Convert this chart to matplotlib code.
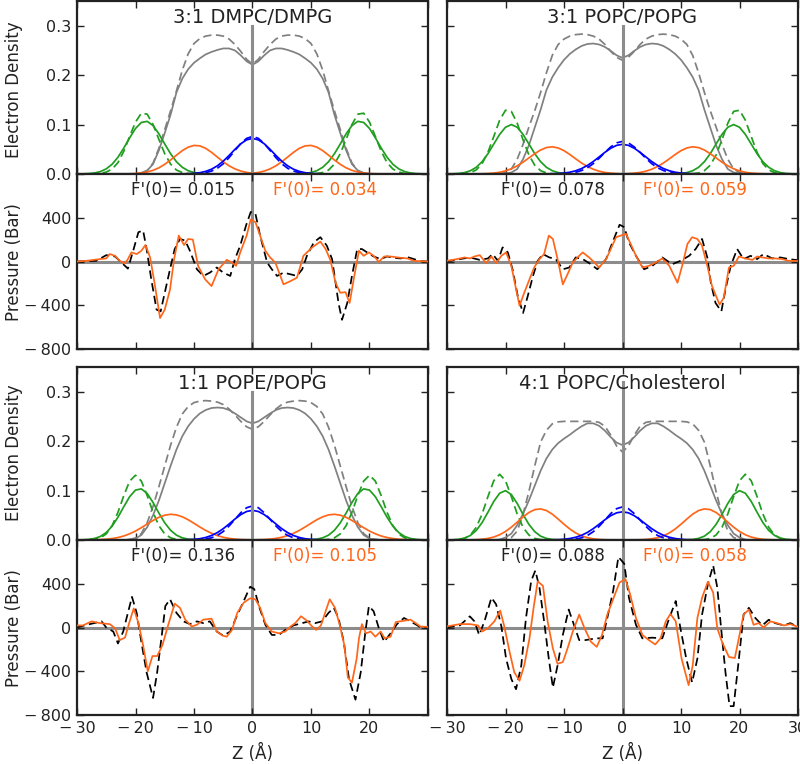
import matplotlib
matplotlib.use("Agg")
import matplotlib.pyplot as plt
from matplotlib.ticker import FixedLocator, FuncFormatter

plt.rcParams['font.family'] = ['DejaVu Sans']

# ---------------- data ----------------
titles = ["3:1 DMPC/DMPG", "3:1 POPC/POPG", "1:1 POPE/POPG", "4:1 POPC/Cholesterol"]
fprime_black = ["0.015", "0.078", "0.136", "0.088"]
fprime_orange = ["0.034", "0.059", "0.105", "0.058"]
vline_top = [0.30, 0.30, 0.30, 0.32]

# density profiles, half profile for Z = 0 .. 30 Å (membranes are symmetric)
z_half = list(range(31))

# panel 1 : 3:1 DMPC/DMPG
p1_total = [0.221, 0.228, 0.240, 0.250, 0.254, 0.254, 0.251, 0.247, 0.242, 0.234, 0.225, 0.212, 0.193, 0.165, 0.120,
            0.083, 0.048, 0.020, 0.007, 0.002, 0, 0, 0, 0, 0, 0, 0, 0, 0, 0, 0]
p1_total_ref = [0.222, 0.232, 0.248, 0.262, 0.273, 0.279, 0.281, 0.281, 0.279, 0.274, 0.264, 0.243, 0.210, 0.168, 0.128,
                0.090, 0.052, 0.022, 0.007, 0.002, 0, 0, 0, 0, 0, 0, 0, 0, 0, 0, 0]
p1_phos = [0, 0, 0, 0, 0, 0, 0, 0, 0.0004, 0.0012, 0.0030, 0.0067, 0.0136, 0.0248, 0.0409, 0.0607, 0.0812, 0.0980,
           0.1065, 0.1043, 0.0921, 0.0732, 0.0525, 0.0339, 0.0197, 0.0104, 0.0049, 0.0021, 0.0008, 0.0003, 0.0001]
p1_phos_ref = [0, 0, 0, 0, 0, 0, 0, 0, 0, 0, 0, 0.001, 0.003, 0.008, 0.020, 0.041, 0.070, 0.100, 0.121, 0.123, 0.105,
               0.076, 0.046, 0.023, 0.010, 0.004, 0.001, 0, 0, 0, 0]
p1_carb = [0.0015, 0.0031, 0.0059, 0.0103, 0.0166, 0.0247, 0.0342, 0.0438, 0.0519, 0.0569, 0.0578, 0.0543, 0.0473,
           0.0381, 0.0284, 0.0196, 0.0125, 0.0074, 0.0041, 0.0021, 0.0010, 0.0004, 0.0002, 0, 0, 0, 0, 0, 0, 0, 0]
p1_meth = [0.0720, 0.0691, 0.0612, 0.0499, 0.0375, 0.0260, 0.0166, 0.0097, 0.0053, 0.0026, 0.0012, 0.0005, 0.0002,
           0, 0, 0, 0, 0, 0, 0, 0, 0, 0, 0, 0, 0, 0, 0, 0, 0, 0]
p1_meth_ref = [0.0760, 0.0721, 0.0617, 0.0476, 0.0331, 0.0207, 0.0117, 0.0059, 0.0027, 0.0011, 0.0004, 0.0001, 0,
               0, 0, 0, 0, 0, 0, 0, 0, 0, 0, 0, 0, 0, 0, 0, 0, 0, 0]

# panel 2 : 3:1 POPC/POPG
p2_total = [0.235, 0.240, 0.249, 0.257, 0.262, 0.264, 0.263, 0.259, 0.252, 0.243, 0.231, 0.215, 0.196, 0.170, 0.130,
            0.094, 0.058, 0.030, 0.010, 0.003, 0.001, 0, 0, 0, 0, 0, 0, 0, 0, 0, 0]
p2_total_ref = [0.230, 0.236, 0.248, 0.262, 0.273, 0.279, 0.282, 0.283, 0.282, 0.279, 0.273, 0.262, 0.240, 0.205,
                0.165, 0.128, 0.095, 0.060, 0.030, 0.010, 0.003, 0, 0, 0, 0, 0, 0, 0, 0, 0, 0]
p2_phos = [0, 0, 0, 0, 0, 0, 0, 0, 0.0001, 0.0004, 0.0011, 0.0029, 0.0066, 0.0135, 0.0249, 0.0411, 0.0607, 0.0801,
           0.0946, 0.1000, 0.0946, 0.0801, 0.0607, 0.0411, 0.0249, 0.0135, 0.0066, 0.0029, 0.0011, 0.0004, 0.0001]
p2_phos_ref = [0, 0, 0, 0, 0, 0, 0, 0, 0, 0, 0, 0.0001, 0.0006, 0.0021, 0.0068, 0.0177, 0.0385, 0.0691, 0.1028,
               0.1266, 0.1290, 0.1089, 0.0760, 0.0439, 0.0210, 0.0083, 0.0027, 0.0007, 0.0002, 0, 0]
p2_carb = [0.0003, 0.0008, 0.0016, 0.0031, 0.0057, 0.0096, 0.0152, 0.0223, 0.0307, 0.0394, 0.0472, 0.0527, 0.0550,
           0.0535, 0.0485, 0.0411, 0.0325, 0.0240, 0.0165, 0.0106, 0.0063, 0.0035, 0.0018, 0.0009, 0.0004, 0.0002,
           0.0001, 0, 0, 0, 0]
p2_meth = [0.0600, 0.0580, 0.0522, 0.0439, 0.0345, 0.0252, 0.0173, 0.0110, 0.0065, 0.0036, 0.0019, 0.0009, 0.0004,
           0.0002, 0.0001, 0, 0, 0, 0, 0, 0, 0, 0, 0, 0, 0, 0, 0, 0, 0, 0]
p2_meth_ref = [0.0660, 0.0630, 0.0549, 0.0437, 0.0317, 0.0209, 0.0126, 0.0070, 0.0035, 0.0016, 0.0007, 0.0003, 0.0001,
               0, 0, 0, 0, 0, 0, 0, 0, 0, 0, 0, 0, 0, 0, 0, 0, 0, 0]

# panel 3 : 1:1 POPE/POPG
p3_total = [0.236, 0.240, 0.248, 0.256, 0.263, 0.267, 0.268, 0.267, 0.263, 0.256, 0.245, 0.230, 0.210, 0.183, 0.150,
            0.115, 0.080, 0.050, 0.026, 0.010, 0.003, 0.001, 0, 0, 0, 0, 0, 0, 0, 0, 0]
p3_total_ref = [0.224, 0.229, 0.240, 0.253, 0.265, 0.274, 0.279, 0.281, 0.282, 0.281, 0.278, 0.270, 0.255, 0.228,
                0.192, 0.150, 0.108, 0.068, 0.035, 0.013, 0.004, 0.001, 0, 0, 0, 0, 0, 0, 0, 0, 0]
p3_phos = [0, 0, 0, 0, 0, 0, 0, 0, 0, 0.0002, 0.0006, 0.0017, 0.0044, 0.0098, 0.0196, 0.0347, 0.0544, 0.0759, 0.0941,
           0.1034, 0.1010, 0.0876, 0.0674, 0.0461, 0.0280, 0.0151, 0.0072, 0.0031, 0.0012, 0.0004, 0.0001]
p3_phos_ref = [0, 0, 0, 0, 0, 0, 0, 0, 0, 0, 0, 0.0001, 0.0003, 0.0013, 0.0044, 0.0123, 0.0289, 0.0560, 0.0898,
               0.1192, 0.1310, 0.1192, 0.0898, 0.0560, 0.0289, 0.0123, 0.0044, 0.0013, 0.0003, 0.0001, 0]
p3_carb = [0.0002, 0.0005, 0.0009, 0.0018, 0.0032, 0.0055, 0.0089, 0.0135, 0.0194, 0.0263, 0.0338, 0.0410, 0.0469,
           0.0508, 0.0520, 0.0502, 0.0459, 0.0396, 0.0323, 0.0249, 0.0181, 0.0125, 0.0081, 0.0050, 0.0029, 0.0016,
           0.0008, 0.0004, 0.0002, 0.0001, 0]
p3_meth = [0.0600, 0.0577, 0.0514, 0.0424, 0.0324, 0.0229, 0.0150, 0.0091, 0.0051, 0.0026, 0.0013, 0.0006, 0.0002,
           0.0001, 0, 0, 0, 0, 0, 0, 0, 0, 0, 0, 0, 0, 0, 0, 0, 0, 0]
p3_meth_ref = [0.0690, 0.0653, 0.0552, 0.0418, 0.0284, 0.0172, 0.0093, 0.0045, 0.0020, 0.0008, 0.0003, 0.0001, 0,
               0, 0, 0, 0, 0, 0, 0, 0, 0, 0, 0, 0, 0, 0, 0, 0, 0, 0]

# panel 4 : 4:1 POPC/Cholesterol
p4_total = [0.192, 0.197, 0.208, 0.221, 0.231, 0.236, 0.236, 0.230, 0.222, 0.213, 0.205, 0.196, 0.183, 0.165, 0.140,
            0.110, 0.080, 0.053, 0.030, 0.013, 0.005, 0.001, 0, 0, 0, 0, 0, 0, 0, 0, 0]
p4_total_ref = [0.178, 0.190, 0.212, 0.230, 0.238, 0.240, 0.240, 0.240, 0.240, 0.240, 0.240, 0.239, 0.235, 0.222,
                0.198, 0.150, 0.098, 0.052, 0.018, 0.005, 0.001, 0, 0, 0, 0, 0, 0, 0, 0, 0, 0]
p4_phos = [0, 0, 0, 0, 0, 0, 0, 0, 0, 0, 0.0001, 0.0003, 0.0011, 0.0032, 0.0078, 0.0168, 0.0316, 0.0517, 0.0739,
           0.0920, 0.0999, 0.0946, 0.0781, 0.0562, 0.0352, 0.0193, 0.0092, 0.0038, 0.0014, 0.0004, 0.0001]
p4_phos_ref = [0, 0, 0, 0, 0, 0, 0, 0, 0, 0, 0, 0, 0, 0.0002, 0.0008, 0.0032, 0.0101, 0.0255, 0.0525, 0.0880,
               0.1199, 0.1330, 0.1199, 0.0880, 0.0525, 0.0255, 0.0101, 0.0032, 0.0008, 0.0002, 0]
p4_carb = [0, 0.0001, 0.0002, 0.0005, 0.0011, 0.0024, 0.0047, 0.0085, 0.0143, 0.0222, 0.0319, 0.0424, 0.0523, 0.0596,
           0.0629, 0.0615, 0.0556, 0.0466, 0.0361, 0.0259, 0.0172, 0.0106, 0.0060, 0.0032, 0.0015, 0.0007, 0.0003,
           0.0001, 0, 0, 0]
p4_meth = [0.0570, 0.0550, 0.0493, 0.0410, 0.0318, 0.0229, 0.0153, 0.0095, 0.0055, 0.0030, 0.0015, 0.0007, 0.0003,
           0.0001, 0, 0, 0, 0, 0, 0, 0, 0, 0, 0, 0, 0, 0, 0, 0, 0, 0]
p4_meth_ref = [0.0670, 0.0634, 0.0536, 0.0406, 0.0275, 0.0167, 0.0091, 0.0044, 0.0019, 0.0007, 0.0003, 0.0001, 0,
               0, 0, 0, 0, 0, 0, 0, 0, 0, 0, 0, 0, 0, 0, 0, 0, 0, 0]

# lateral pressure profiles (Z in Å, pressure in bar)
p1_sim_z = [-30.1, -28.4, -26.1, -25, -24.4, -23.5, -22.7, -21.8, -21.3, -20.7, -19.8, -19, -18.3, -17.5, -16.8,
            -15.8, -15, -14.1, -13.4, -12.6, -11.7, -11, -10.2, -9.3, -8.1, -7, -5.8, -4.4, -3.5, -2.8, -2.1, -1,
            -0.3, 0.5, 1.3, 2.2, 3, 3.9, 5.3, 6.5, 7.6, 8.7, 10.2, 11.6, 12.5, 13.3, 14.2, 15, 15.9, 16.6, 17.4,
            18.2, 19, 19.9, 20.7, 21.6, 22.5, 23.6, 25.3, 26.5, 27.6, 28.7, 30]
p1_sim_p = [0, 6, 22, 28, 68, 52, 6, -18, 22, 83, 68, 98, 151, 37, -179,
            -517, -440, -256, 22, 237, 151, 206, 200, -40, -163, -225, -71, 15, -9, -40, 83, 237,
            385, 360, 237, 98, 37, -9, -209, -179, -148, 52, 129, 182, 114, 15, -194, -286, -280, -379, -132,
            98, 52, 83, 52, -3, 46, 46, 34, 28, 6, 3, 0]
p1_ref_z = [-30.1, -26.7, -25, -23.5, -22.7, -21.3, -20.4, -19.5, -18.7, -18.1, -17.3, -16.4, -15.7, -15, -14.1,
            -13.3, -12.4, -11.5, -10.7, -9.5, -8.4, -7.3, -6.1, -5, -3.8, -3, -2.1, -1.1, -0.3, 0.5, 1.3, 2.5, 3.3,
            4.2, 5.3, 6.5, 7.6, 8.5, 9.3, 10.5, 11.6, 12.7, 13.6, 14.2, 14.7, 15.3, 16.2, 17, 17.9, 18.7, 19.6,
            20.7, 21.9, 23, 24.2, 25.3, 26.5, 27.6, 28.7, 30]
p1_ref_p = [0, 6, 58, 46, 6, -65, 98, 268, 283, 114, -163, -440, -456, -286, -71,
            114, 206, 191, 98, -71, -132, -102, -55, -102, -132, 22, 145, 330, 453, 437, 237, -9, -71,
            -132, -102, -117, -132, -71, 52, 176, 222, 145, 22, -194, -379, -533, -379, -132, 114, 114, 83,
            46, 22, 46, 34, 28, 40, 22, 3, 0]

p2_sim_z = [-30.1, -29, -27.8, -27, -26.1, -25.3, -24.4, -23.3, -22.4, -21.6, -20.7, -19.9, -19, -18.3, -17.6,
            -16.8, -15.9, -15.1, -14.2, -13.4, -12.6, -11.9, -11.1, -10.2, -9.4, -8.5, -7.7, -6.8, -5.7, -4.8, -4,
            -2.8, -2, -1.1, -0.3, 0.6, 1.4, 2.3, 3.4, 4.5, 5.7, 6.8, 8, 9.4, 10.2, 11.1, 11.9, 12.8, 13.6, 14.5,
            15.3, 16.6, 17.3, 18.2, 19, 19.9, 21, 22.2, 23, 23.9, 25, 26.1, 27.3, 28.4, 29.5, 30]
p2_sim_p = [6, 15, 28, 37, 28, 46, 58, -15, 46, -15, 52, 83, -40, -225, -404,
            -286, -163, -55, 22, 68, 237, 206, 22, -209, -117, -9, 37, 83, 37, -9, -55,
            22, 114, 222, 237, 253, 160, 52, -55, -40, -9, 28, -40, -194, -40, 160, 222, 206, 145, -40,
            -225, -394, -332, -55, -40, 46, 28, 15, 46, 37, 28, 28, 22, 6, 6, 4]
p2_ref_z = [-30.1, -27.8, -26.1, -24.4, -23, -22.2, -21.3, -20.5, -19.6, -18.8, -17.9, -17, -16.2, -15.3, -14.5,
            -13.6, -12.5, -11.4, -10.2, -9.1, -8, -6.8, -5.4, -4.3, -2.8, -1.7, -0.5, 0.3, 1.1, 2.3, 3.7, 5.1, 6.8,
            8.5, 9.9, 11.4, 12.5, 13.6, 14.5, 15.1, 15.9, 16.9, 17.6, 18.5, 19.6, 20.7, 21.9, 23, 24.1, 25.6, 27,
            28.4, 29.5, 30]
p2_ref_p = [0, 22, 37, 15, 28, 68, 6, 129, 83, -71, -317, -471, -317, -132, 6,
            68, 37, 22, -71, -55, 37, 22, -25, -71, 22, 176, 336, 314, 176, 52, -71, -40, 37,
            -25, 6, 52, 114, 206, 37, -194, -379, -456, -256, -40, 114, 22, 52, 22, 68, 28, 37,
            22, 15, 12]

p3_sim_z = [-30.1, -29, -27.5, -26.1, -24.4, -23.5, -22.7, -21.8, -21, -20.3, -19.5, -18.7, -17.9, -17.1, -16.3,
            -15.4, -14.4, -13.3, -12.4, -11.5, -10.4, -9.5, -8.4, -7, -6.1, -5.1, -4.4, -3.5, -2.6, -1.5, -0.4, 0.5,
            1.3, 2.2, 3.3, 4.5, 5.6, 6.5, 7.3, 8.3, 9.3, 10.2, 10.9, 11.7, 12.5, 13.2, 14.1, 14.9, 15.7, 16.3, 17,
            17.8, 18.2, 18.7, 19.4, 20.2, 21, 21.9, 22.6, 23.6, 24.5, 25.9, 27, 27.9, 28.7, 30]
p3_sim_p = [19, 19, 56, 40, 31, -6, -115, -93, 56, 174, 40, -162, -401, -261, -261,
            -162, 25, 218, 180, 72, 9, 25, 72, 81, -37, -75, -84, -22, 134, 227, 267, 258,
            180, 40, -37, -53, -37, 9, 40, 103, 62, 9, -22, 19, 149, 258, 180, 25, -162, -457, -504,
            -286, -99, 31, -53, -37, -84, -37, -99, -84, 50, 62, 72, 40, 9, 5]
p3_ref_z = [-30.1, -27.8, -25.8, -25, -23.8, -23, -22.1, -21.3, -20.6, -19.8, -19, -18.1, -17, -16.3, -15.5,
            -14.9, -14.1, -13, -11.8, -10.7, -9.5, -8.4, -7.3, -6.1, -5, -3.8, -2.7, -1.5, -0.4, 0.3, 1.2, 2.2, 3.3,
            4.5, 5.6, 7, 8.5, 9.6, 10.7, 11.9, 13, 13.9, 14.7, 15.6, 16.5, 17.6, 18.5, 19.3, 19.9, 20.7, 21.6,
            22.5, 23.6, 24.7, 25.9, 27, 28.2, 28.7, 30]
p3_ref_p = [0, 31, 56, 0, -37, -146, -37, 134, 280, 134, -131, -410, -644, -410, -68,
            196, 258, 134, 56, 31, 56, 40, 56, -37, -75, -37, 103, 242, 373, 351, 180, 25, -68,
            -68, -22, 19, 40, 56, 40, 56, 134, 180, 87, -131, -473, -660, -410, -37, 196, 149, -6,
            -131, -53, 31, 87, 56, 19, 0, 0]

p4_sim_z = [-30.1, -27.8, -26.1, -24.7, -24, -23, -21.9, -20.9, -20.2, -19.3, -18.5, -17.6, -16.8, -15.9, -15.2,
            -14.5, -13.6, -12.8, -11.9, -11.1, -10.2, -9.4, -8.5, -7.4, -6.5, -5.4, -4.4, -3.5, -2.6, -1.4, -0.5,
            0.5, 1.3, 2.3, 3.4, 4.5, 5.6, 6.5, 7.4, 8.2, 9.1, 10.1, 11.3, 12, 12.8, 13.6, 14.6, 15.5, 16.2, 17,
            18.2, 19.2, 20, 20.7, 21.6, 22.4, 23.3, 24.1, 25.3, 26.4, 27.6, 28.7, 29.8, 30]
p4_sim_p = [9, 31, 31, 19, -37, -6, 56, 155, 9, -223, -409, -487, -347, -99, 180,
            422, 381, 56, -192, -332, -316, -192, -37, 118, -6, -130, -177, -68, 118, 288, 412,
            443, 304, 87, -68, -115, -155, -99, 56, 124, 56, -285, -527, -347, 87, 273, 419, 319, -6, -130,
            -270, -279, -68, 118, 164, 25, 40, 0, 56, 40, 19, 31, 9, 8]
p4_ref_z = [-30.1, -27.8, -26.1, -25.3, -24.5, -23.6, -22.4, -21.6, -20.7, -19.9, -19, -18.2, -17.3, -16.5, -15.6,
            -14.9, -14.2, -13.4, -12.6, -11.9, -11.1, -10.2, -9.2, -8.2, -7.4, -6.3, -4.5, -3.4, -2.6, -1.6, -0.7,
            0.3, 1.1, 2.3, 3.4, 5.1, 6.8, 8, 9.1, 9.9, 10.9, 11.9, 12.8, 13.6, 14.6, 15.5, 16.2, 16.8, 17.6, 18.3,
            19, 19.9, 20.7, 21.6, 22.7, 23.9, 25, 26.1, 27.6, 28.7, 29.8, 30]
p4_ref_p = [0, 19, 102, 56, -68, 56, 273, 211, 9, -285, -471, -564, -347, 87, 428,
            521, 366, 56, -285, -549, -347, -68, 164, 9, -115, -115, -99, -99, 87, 335, 645,
            583, 273, 25, -99, -93, -99, 87, 242, -6, -285, -502, -285, 118, 397, 567, 366, 25, -409, -719,
            -719, -285, 118, 180, 87, 19, 71, 40, 19, 40, 9, 8]

density_sets = [
    (p1_total, p1_total_ref, p1_phos, p1_phos_ref, p1_carb, p1_meth, p1_meth_ref),
    (p2_total, p2_total_ref, p2_phos, p2_phos_ref, p2_carb, p2_meth, p2_meth_ref),
    (p3_total, p3_total_ref, p3_phos, p3_phos_ref, p3_carb, p3_meth, p3_meth_ref),
    (p4_total, p4_total_ref, p4_phos, p4_phos_ref, p4_carb, p4_meth, p4_meth_ref),
]
pressure_sets = [
    (p1_ref_z, p1_ref_p, p1_sim_z, p1_sim_p),
    (p2_ref_z, p2_ref_p, p2_sim_z, p2_sim_p),
    (p3_ref_z, p3_ref_p, p3_sim_z, p3_sim_p),
    (p4_ref_z, p4_ref_p, p4_sim_z, p4_sim_p),
]

# ---------------- styling ----------------
ORANGE = '#ff6619'
GREEN = '#1f9e1f'
BLUE = '#0000ff'
GRAY = '#808080'
AXGRAY = '#8c8c8c'
DASH = (4.8, 2.6)
LW = 1.25
TICK_FS = 11.5
LABEL_FS = 12
TEXT_COLOR = '#222222'


def mirror(half):
    return list(half[:0:-1]) + list(half)


z_full = [-z for z in z_half[:0:-1]] + z_half


def fmt_num(v, decimals):
    s = '{:.{d}f}'.format(abs(v), d=decimals)
    return ('\u2212\u2009' + s) if v < 0 else s


def make_fmt(decimals, hide_at=None):
    def f(v, pos):
        if hide_at is not None and v >= hide_at:
            return ''
        return fmt_num(v, decimals)
    return FuncFormatter(f)


def style_axes(ax):
    for sp in ax.spines.values():
        sp.set_linewidth(1.6)
        sp.set_color(TEXT_COLOR)
    ax.tick_params(direction='in', length=5, width=1, top=True, right=True,
                   labelsize=TICK_FS, colors=TEXT_COLOR, pad=4)
    ax.set_xlim(-30, 30)
    ax.xaxis.set_major_locator(FixedLocator([-30, -20, -10, 0, 10, 20, 30]))


fig = plt.figure(figsize=(8.0, 7.64), dpi=100)

W = 351 / 800
col_x = [77 / 800, 447 / 800]
dens_y = [590 / 764, 224 / 764]
pres_y = [415 / 764, 49 / 764]
DH = 173 / 764
PH = 175 / 764

for i in range(4):
    row, col = divmod(i, 2)
    total, total_ref, phos, phos_ref, carb, meth, meth_ref = density_sets[i]
    axd = fig.add_axes([col_x[col], dens_y[row], W, DH])
    axp = fig.add_axes([col_x[col], pres_y[row], W, PH])

    # density panel
    axd.plot(z_full, mirror(total_ref), color=GRAY, lw=LW, dashes=DASH, zorder=2)
    axd.plot(z_full, mirror(total), color=GRAY, lw=LW, zorder=2)
    axd.plot(z_full, mirror(phos_ref), color=GREEN, lw=LW, dashes=DASH, zorder=2)
    axd.plot(z_full, mirror(phos), color=GREEN, lw=LW, zorder=2)
    axd.plot(z_full, mirror(carb), color=ORANGE, lw=LW, zorder=2)
    axd.plot(z_full, mirror(meth_ref), color=BLUE, lw=LW, dashes=DASH, zorder=2)
    axd.plot(z_full, mirror(meth), color=BLUE, lw=LW, zorder=2)
    axd.plot([0, 0], [0, vline_top[i]], color=AXGRAY, lw=2.2, zorder=3)
    axd.set_ylim(0, 0.35)
    style_axes(axd)
    axd.yaxis.set_major_locator(FixedLocator([0.0, 0.1, 0.2, 0.3]))
    axd.yaxis.set_major_formatter(make_fmt(1))
    axd.tick_params(labelbottom=False)
    axd.text(0, 0.317, titles[i], ha='center', va='center', fontsize=14, color=TEXT_COLOR)

    # pressure panel
    ref_z, ref_p, sim_z, sim_p = pressure_sets[i]
    axp.axhline(0, color=AXGRAY, lw=2.2, zorder=1)
    axp.axvline(0, color=AXGRAY, lw=2.2, zorder=1)
    axp.plot(ref_z, ref_p, color='black', lw=LW, dashes=DASH, zorder=2)
    axp.plot(sim_z, sim_p, color=ORANGE, lw=LW, zorder=3)
    axp.set_ylim(-800, 800)
    style_axes(axp)
    axp.yaxis.set_major_locator(FixedLocator([-800, -400, 0, 400, 800]))
    axp.yaxis.set_major_formatter(make_fmt(0, hide_at=800))
    axp.text(-11.9, 650, "F'(0)= " + fprime_black[i], ha='center', va='center',
             fontsize=LABEL_FS, color=TEXT_COLOR)
    axp.text(12.4, 650, "F'(0)= " + fprime_orange[i], ha='center', va='center',
             fontsize=LABEL_FS, color=ORANGE)

    if col == 1:
        axd.tick_params(labelleft=False)
        axp.tick_params(labelleft=False)

    if row == 0:
        axp.tick_params(labelbottom=False)
    else:
        # left panel: its "30" would collide with the right panel's "-30"
        axp.xaxis.set_major_formatter(make_fmt(0, hide_at=30 if col == 0 else None))
        axp.set_xlabel('Z (\u00c5)', fontsize=LABEL_FS, color=TEXT_COLOR, labelpad=6)

# y labels
fig.text(0.017, 0.882, 'Electron Density', rotation=90, ha='center', va='center', fontsize=LABEL_FS, color=TEXT_COLOR)
fig.text(0.017, 0.657, 'Pressure (Bar)', rotation=90, ha='center', va='center', fontsize=LABEL_FS, color=TEXT_COLOR)
fig.text(0.017, 0.407, 'Electron Density', rotation=90, ha='center', va='center', fontsize=LABEL_FS, color=TEXT_COLOR)
fig.text(0.017, 0.178, 'Pressure (Bar)', rotation=90, ha='center', va='center', fontsize=LABEL_FS, color=TEXT_COLOR)

fig.savefig('out.png', dpi=100)
